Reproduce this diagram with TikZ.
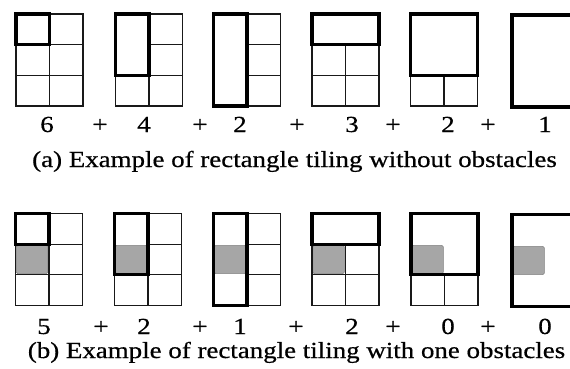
\documentclass[tikz,border=0pt]{standalone}
\usepackage{fontspec}
\setmainfont[FakeStretch=1.17, FakeBold=0.6]{Liberation Serif}
\tikzset{
  thinline/.style={line width=1.3pt, draw=black!90},
  thickbox/.style={line width=3.3pt, draw=black, line join=miter},
  obst/.style={fill=black!35, draw=black!50, line width=0.6pt, rounded corners=1.5pt},
  lbl/.style={font=\fontsize{23}{27}\selectfont, anchor=base, inner sep=0pt},
}
\newcommand\gtile[4]{%
  \begin{scope}[shift={(#1,#2)}, x=33.5pt, y=-30.67pt]
    \ifnum#4=1
      \filldraw[obst] ([xshift=0.8pt,yshift=-1.2pt]0,1) rectangle ([xshift=-1.2pt,yshift=1.2pt]1,2);
    \fi
    \ifcase#3\or
      \draw[thinline] (0,0) rectangle (2,3) (1,0)--(1,3) (0,1)--(2,1) (0,2)--(2,2);
      \draw[thickbox] (0,0) rectangle (1,1);
    \or
      \draw[thinline] (0,0) rectangle (2,3) (1,2)--(1,3) (1,1)--(2,1) (0,2)--(2,2);
      \draw[thickbox] (0,0) rectangle (1,2);
    \or
      \draw[thinline] (0,0) rectangle (2,3) (1,1)--(2,1) (1,2)--(2,2);
      \draw[thickbox] (0,0) rectangle (1,3);
    \or
      \draw[thinline] (0,0) rectangle (2,3) (1,1)--(1,3) (0,2)--(2,2);
      \draw[thickbox] (0,0) rectangle (2,1);
    \or
      \draw[thinline] (0,0) rectangle (2,3) (1,2)--(1,3);
      \draw[thickbox] (0,0) rectangle (2,2);
    \or
      \draw[thickbox] (0,0) rectangle (2,3);
    \fi
  \end{scope}}
\begin{document}
\begin{tikzpicture}[x=1pt, y=-1pt]
  \useasboundingbox[fill=white] (0,0) rectangle (570,369);
  % row (a)
  \gtile{16}{14}{1}{0}
  \gtile{115.5}{14}{2}{0}
  \gtile{213.5}{14}{3}{0}
  \gtile{312}{14}{4}{0}
  \gtile{410.5}{14}{5}{0}
  \gtile{512}{15}{6}{0}
  % row (b)
  \gtile{15.5}{213.5}{1}{1}
  \gtile{114.5}{213.5}{2}{1}
  \gtile{213.5}{213.5}{3}{1}
  \gtile{312}{213.5}{4}{1}
  \gtile{411}{213.5}{5}{1}
  \gtile{512}{214.5}{6}{1}
  % numbers (a)
  \node[lbl] (na1) at (47,132) {6};
  \node[lbl] (pa1) at (100,132) {+};
  \node[lbl] (na2) at (144,132) {4};
  \node[lbl] (pa2) at (200,132) {+};
  \node[lbl] (na3) at (240,132) {2};
  \node[lbl] (pa3) at (297,132) {+};
  \node[lbl] (na4) at (352,132) {3};
  \node[lbl] (pa4) at (393,132) {+};
  \node[lbl] (na5) at (448,132) {2};
  \node[lbl] (pa5) at (488,132) {+};
  \node[lbl] (na6) at (545,132) {1};
  \node[lbl] (capa) at (294.5,167) {(a) Example of rectangle tiling without obstacles};
  % numbers (b)
  \node[lbl] (nb1) at (44,334) {5};
  \node[lbl] (pb1) at (101,334) {+};
  \node[lbl] (nb2) at (144,334) {2};
  \node[lbl] (pb2) at (200,334) {+};
  \node[lbl] (nb3) at (240,334) {1};
  \node[lbl] (pb3) at (296,334) {+};
  \node[lbl] (nb4) at (352,334) {2};
  \node[lbl] (pb4) at (393,334) {+};
  \node[lbl] (nb5) at (448,334) {0};
  \node[lbl] (pb5) at (488,334) {+};
  \node[lbl] (nb6) at (545,334) {0};
  \node[lbl] (capb) at (296.5,358) {(b) Example of rectangle tiling with one obstacles};
\end{tikzpicture}
\end{document}
